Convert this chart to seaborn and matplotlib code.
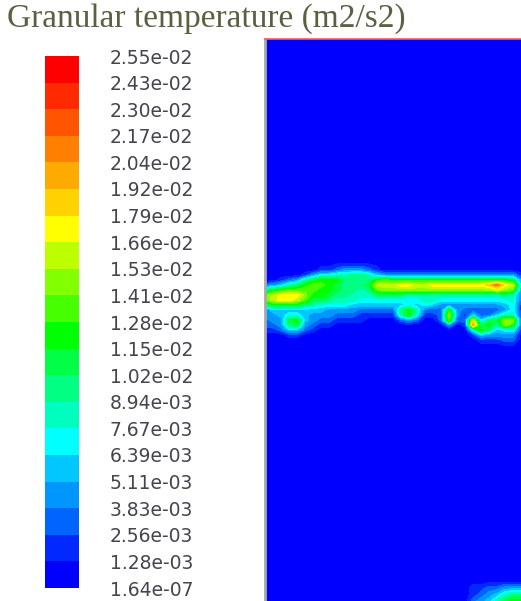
import numpy as np
import matplotlib
matplotlib.use("Agg")
import matplotlib.pyplot as plt
from matplotlib.colors import ListedColormap
import seaborn as sns

# contour levels, as printed on the legend (bottom to top)
levels = [1.64e-07, 1.28e-03, 2.56e-03, 3.83e-03, 5.11e-03, 6.39e-03, 7.67e-03,
          8.94e-03, 1.02e-02, 1.15e-02, 1.28e-02, 1.41e-02, 1.53e-02, 1.66e-02,
          1.79e-02, 1.92e-02, 2.04e-02, 2.17e-02, 2.30e-02, 2.43e-02, 2.55e-02]

band_colors = ['#0000ff', '#0028ff', '#0064ff', '#0096ff', '#00c8ff',
               '#00ffff', '#00ffbe', '#00ff82', '#00ff46', '#00ff00',
               '#46ff00', '#82ff00', '#beff00', '#ffff00', '#ffd200',
               '#ffaa00', '#ff8000', '#ff5500', '#ff2a00', '#ff0000']

# field sample columns (pixel x of the picture)
x_cols = [265, 273, 281, 289, 297, 305, 313, 321, 329, 337, 345, 353, 361, 369,
          377, 385, 393, 401, 409, 417, 425, 433, 441, 449, 457, 465, 473, 481,
          489, 497, 505, 513, 521]

# band index, bed surface region
band_y = [270, 275, 280, 285, 290, 295, 300, 305, 310, 315, 320, 325, 330, 335, 340]
band_idx = [
    [0,0,0,0,0,0,0,1,1,2,3,3,3,2,1,0,0,0,0,0,0,0,0,0,0,0,0,0,0,0,0,0,0],
    [0,0,0,0,0,1,3,5,5,6,6,7,7,6,4,3,3,3,3,3,3,3,3,3,3,3,3,3,3,3,3,3,1],
    [0,0,1,2,3,6,8,9,9,9,7,7,7,7,9,10,9,9,9,9,9,9,9,9,9,9,9,9,9,9,9,8,3],
    [2,3,4,6,7,9,10,10,9,8,7,7,7,8,12,12,12,13,13,12,12,13,13,13,13,13,13,13,14,16,13,12,4],
    [7,8,9,10,10,10,10,9,9,8,7,7,6,7,10,11,11,11,11,11,11,11,11,11,11,11,11,11,11,12,11,10,3],
    [10,12,13,13,13,11,9,9,8,7,7,6,6,6,7,7,7,7,6,6,6,6,6,6,6,6,6,6,6,6,7,6,2],
    [10,12,13,13,12,10,8,8,7,6,6,6,5,5,5,5,5,5,5,5,6,6,5,5,5,5,5,5,5,5,5,6,2],
    [7,8,8,8,8,7,6,5,5,5,5,4,4,4,4,4,4,4,5,4,5,4,3,3,3,3,3,3,3,3,4,5,1],
    [3,4,4,4,4,4,4,4,3,3,3,3,2,2,2,2,2,7,9,6,2,2,2,9,3,2,2,2,2,2,3,5,1],
    [3,3,4,5,5,4,3,3,3,2,2,2,1,1,1,1,1,6,9,5,1,1,2,11,3,1,4,2,2,4,6,6,1],
    [2,3,3,8,9,4,3,2,2,1,1,1,1,0,0,0,0,2,3,2,0,0,2,10,2,2,13,4,7,8,11,11,2],
    [2,2,3,7,8,3,2,1,1,0,0,0,0,0,0,0,0,0,0,0,0,0,0,3,0,1,15,7,9,6,11,9,2],
    [1,1,2,4,4,2,1,0,0,0,0,0,0,0,0,0,0,0,0,0,0,0,0,0,0,0,5,9,7,4,5,5,1],
    [0,0,0,1,1,0,0,0,0,0,0,0,0,0,0,0,0,0,0,0,0,0,0,0,0,0,1,4,3,3,3,3,0],
    [0,0,0,0,0,0,0,0,0,0,0,0,0,0,0,0,0,0,0,0,0,0,0,0,0,0,0,1,1,1,2,2,0],
]

# small patch in the lower right corner (columns 465..521)
corner_y = [588, 595, 601]
corner_idx = [
    [0, 1, 1, 2, 2, 3, 3, 3],
    [0, 1, 2, 3, 4, 6, 7, 7],
    [0, 2, 3, 4, 6, 8, 9, 9],
]

tick_labels = [f"{v:.2e}" for v in levels]

sns.set_style("white")

# build the field on the sample grid
field_y = [39, 262] + band_y + [347, 581] + corner_y
idx = np.zeros((len(field_y), len(x_cols)), dtype=int)
idx[2:2 + len(band_y)] = band_idx
idx[-3:, 25:] = corner_idx
lev = np.array(levels)
mids = (lev[:-1] + lev[1:]) / 2
field = mids[idx]

fig = plt.figure(figsize=(5.21, 6.01), dpi=100)

# legend bar
cax = fig.add_axes([45 / 521, 1 - 588 / 601, 34 / 521, 532 / 601])
bar = np.arange(len(band_colors))[::-1].reshape(-1, 1)
sns.heatmap(bar, cmap=ListedColormap(band_colors), vmin=-0.5, vmax=19.5,
            cbar=False, ax=cax, xticklabels=False)
cax.yaxis.tick_right()
cax.set_yticks(np.arange(len(levels)))
cax.set_yticklabels(tick_labels[::-1], rotation=0)
cax.tick_params(axis='y', length=0, pad=22, labelsize=13.5, labelcolor='#44444e')
for lab in cax.get_yticklabels():
    lab.set_fontfamily('DejaVu Sans')

# contour field
ax = fig.add_axes([265 / 521, 0, 256 / 521, 562 / 601])
ax.contourf(x_cols, field_y, field, levels=levels, colors=band_colors)
ax.set_xlim(265, 521)
ax.set_ylim(601, 39)
ax.set_xticks([])
ax.set_yticks([])
for s in ['right', 'bottom']:
    ax.spines[s].set_visible(False)
ax.spines['top'].set_color('#ff5a5a')
ax.spines['top'].set_linewidth(1.2)
ax.spines['left'].set_color('#a8a8a8')
ax.spines['left'].set_linewidth(2)

fig.text(7 / 521, 1 - 27 / 601, 'Granular temperature (m2/s2)',
         fontfamily='Liberation Serif', fontsize=24, color='#5a6042',
         ha='left', va='baseline')

fig.savefig('out.png', dpi=100)
